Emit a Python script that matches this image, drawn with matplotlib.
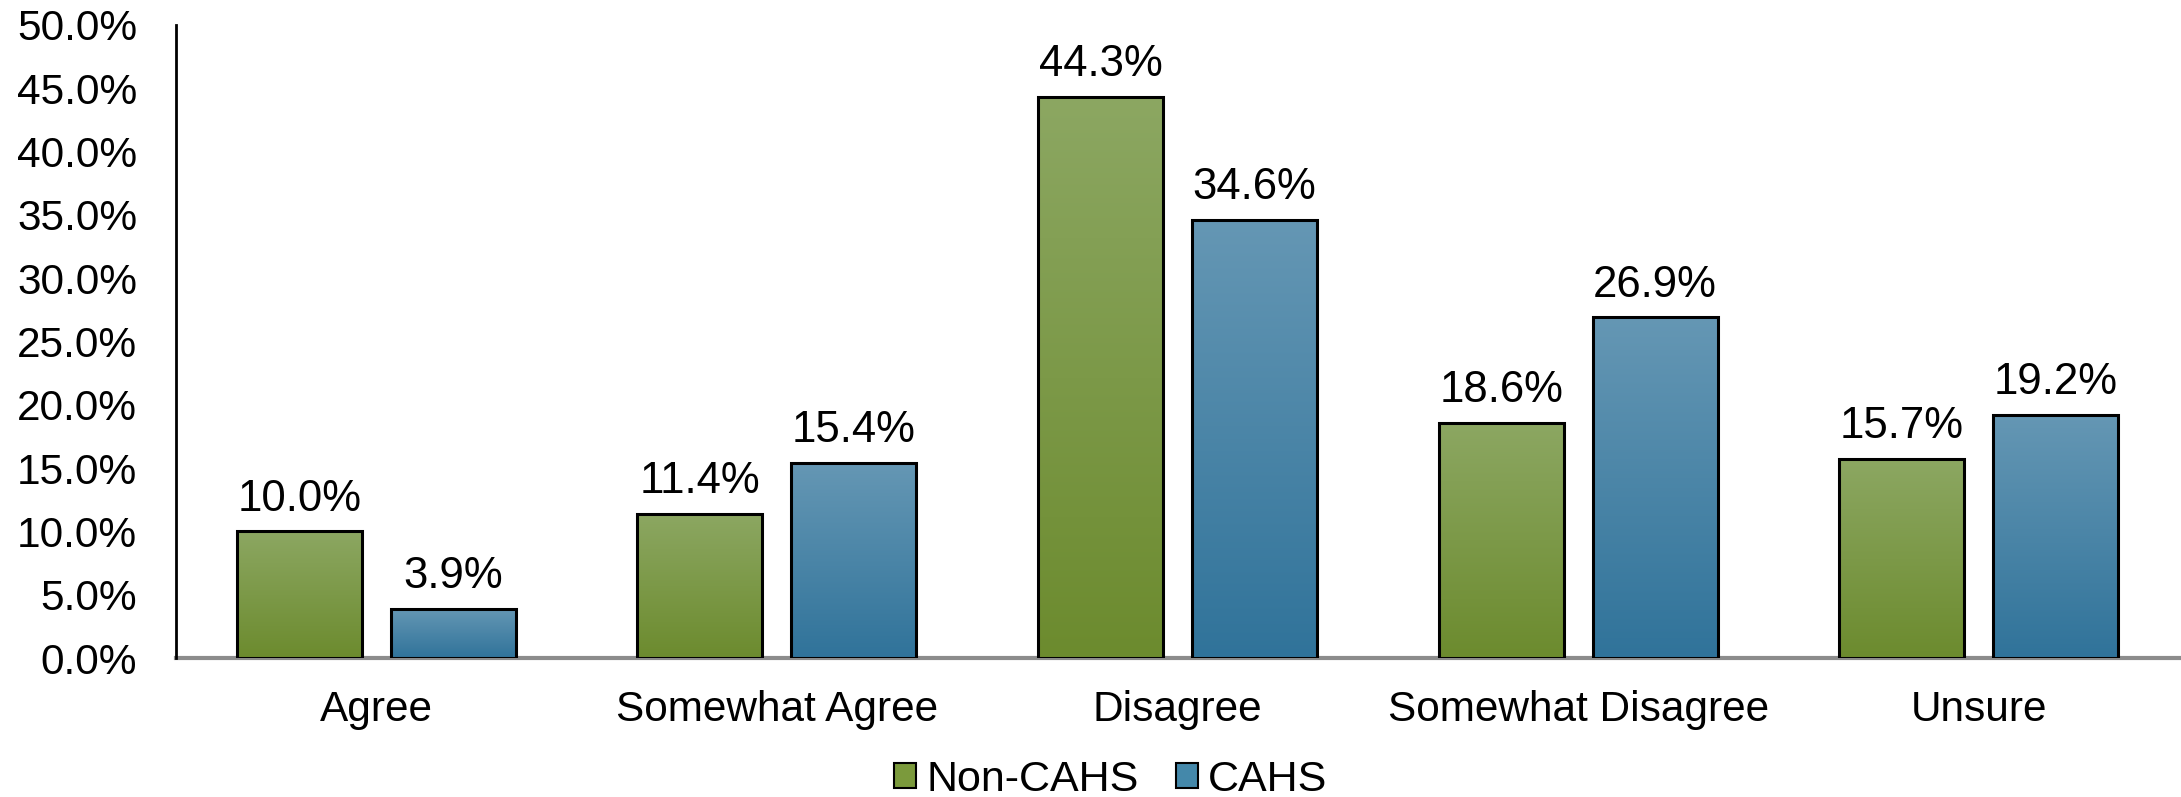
import numpy as np
import matplotlib
matplotlib.use("Agg")
import matplotlib.pyplot as plt
from matplotlib.colors import LinearSegmentedColormap
from matplotlib.patches import Patch
from matplotlib.ticker import MultipleLocator, FuncFormatter

plt.rcParams['font.family'] = ['Liberation Sans', 'DejaVu Sans']

categories = ["Agree", "Somewhat Agree", "Disagree", "Somewhat Disagree", "Unsure"]
series_names = ["Non-CAHS", "CAHS"]
non_cahs = [10.0, 11.4, 44.3, 18.6, 15.7]
cahs = [3.9, 15.4, 34.6, 26.9, 19.2]

# top, bottom colours of each series' vertical gradient
gradients = [("#8ca762", "#6c8b2e"), ("#6597b4", "#30739a")]
legend_colors = ["#7b9a3c", "#4488aa"]

fig = plt.figure(figsize=(21.81, 7.97), dpi=100)
ax = fig.add_axes([176 / 2181, 1 - 658 / 797, (2179 - 176) / 2181, (658 - 25) / 797])

x = np.arange(len(categories))
width = 0.312
offset = 0.192

ramp = np.linspace(0, 1, 256).reshape(-1, 1)
for values, sgn, (top, bottom) in zip([non_cahs, cahs], [-1, 1], gradients):
    cmap = LinearSegmentedColormap.from_list("g", [bottom, top])
    bars = ax.bar(x + sgn * offset, values, width, facecolor="none",
                  edgecolor="black", linewidth=2.2, zorder=3)
    for rect, v in zip(bars, values):
        x0 = rect.get_x()
        ax.imshow(ramp, cmap=cmap, origin="lower", aspect="auto",
                  extent=(x0, x0 + rect.get_width(), 0, v), zorder=2,
                  interpolation="bilinear")
        ax.annotate(f"{v:.1f}%", (rect.get_x() + rect.get_width() / 2, v),
                    xytext=(0, 15), textcoords="offset points",
                    ha="center", va="baseline", fontsize=31.5)

ax.set_xlim(-0.5, len(categories) - 0.5)
ax.set_ylim(0, 50)
ax.yaxis.set_major_locator(MultipleLocator(5))
ax.yaxis.set_major_formatter(FuncFormatter(lambda v, p: f"{v:.1f}%"))
ax.set_xticks(x)
ax.set_xticklabels(categories)
ax.tick_params(axis="both", length=0, labelsize=30.5)
ax.tick_params(axis="y", pad=28)
ax.tick_params(axis="x", pad=23)

for s in ["top", "right"]:
    ax.spines[s].set_visible(False)
ax.spines["left"].set_color("black")
ax.spines["left"].set_linewidth(2)
ax.spines["bottom"].set_color("#8c8c8c")
ax.spines["bottom"].set_linewidth(3)
ax.spines["bottom"].set_zorder(1)

handles = [Patch(facecolor=c, edgecolor="black", linewidth=1.5) for c in legend_colors]
fig.legend(handles, series_names, loc="center", bbox_to_anchor=(1111 / 2181, 1 - 780 / 797),
           ncol=2, frameon=False, fontsize=31, handlelength=0.5, handleheight=0.5,
           handletextpad=0.25, columnspacing=0.86, borderaxespad=0, borderpad=0)

fig.savefig("out.png", dpi=100)
